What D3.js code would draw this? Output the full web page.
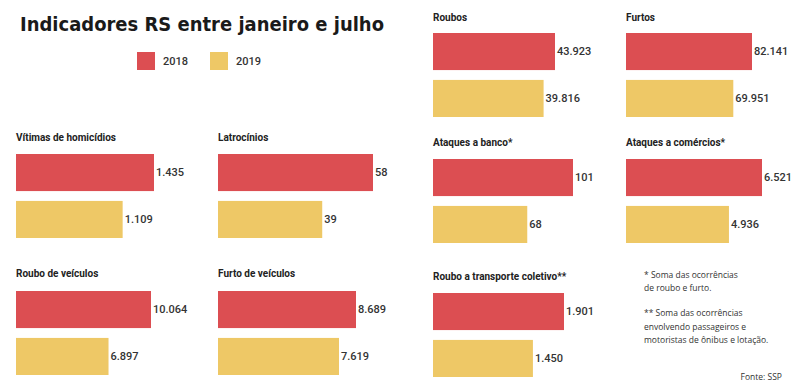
<!DOCTYPE html>
<html><head><meta charset="utf-8">
<script src="https://cdn.jsdelivr.net/npm/d3@7"></script>
<style>
html,body{margin:0;padding:0;background:#fff;}
svg{display:block;}
</style></head>
<body>
<svg id="chart" width="800" height="391"></svg>
<script>
// ---- data ----
const chartTitle = "Indicadores RS entre janeiro e julho";
const years = ["2018", "2019"];
const panelTitles = ["Roubos", "Furtos", "Vítimas de homicídios", "Latrocínios",
  "Ataques a banco*", "Ataques a comércios*", "Roubo de veículos", "Furto de veículos",
  "Roubo a transporte coletivo**"];
const values2018 = [43923, 82141, 1435, 58, 101, 6521, 10064, 8689, 1901];
const values2019 = [39816, 69951, 1109, 39, 68, 4936, 6897, 7619, 1450];
const notes = [["* Soma das ocorrências", "de roubo e furto."],
  ["** Soma das ocorrências", "envolvendo passageiros e", "motoristas de ônibus e lotação."]];
const source = "Fonte: SSP";

// ---- layout (positions only) ----
const layout = [
  {x: 433, ty: 17, top: 33, w: 122},
  {x: 626, ty: 17, top: 33, w: 126},
  {x: 16, ty: 137, top: 154, w: 138},
  {x: 218, ty: 137, top: 154, w: 155},
  {x: 433, ty: 142, top: 159, w: 140},
  {x: 626, ty: 142, top: 159, w: 136},
  {x: 16, ty: 273, top: 291, w: 135},
  {x: 218, ty: 273, top: 291, w: 138},
  {x: 433, ty: 276, top: 293, w: 131}
];
const colors = d3.scaleOrdinal().domain(years).range(["#dc4e52", "#eec866"]);
const fmt = v => d3.format(",")(v).replace(/,/g, ".");

const svg = d3.select("#chart");

// title
const t = svg.append("text").attr("x", 20).attr("y", 31)
  .attr("font-family", "DejaVu Sans").attr("font-weight", "bold").attr("font-size", 20)
  .attr("fill", "#1a1a1a").text(chartTitle);
const tl = t.node().getComputedTextLength();
if (tl > 364) t.attr("textLength", 364).attr("lengthAdjust", "spacingAndGlyphs");

// legend
const legX = d3.scalePoint().domain(years).range([137, 210]);
const leg = svg.append("g").selectAll("g").data(years).join("g")
  .attr("transform", d => `translate(${legX(d)},52)`);
leg.append("rect").attr("width", 18).attr("height", 18).attr("fill", d => colors(d));
leg.append("text").attr("x", 26).attr("y", 13).attr("font-family", "Roboto")
  .attr("font-size", 11).attr("font-weight", 500).attr("fill", "#333").text(d => d);

// panels
panelTitles.forEach((title, i) => {
  const L = layout[i];
  const vals = [values2018[i], values2019[i]];
  const g = svg.append("g").attr("transform", `translate(${L.x},0)`);
  const x = d3.scaleLinear().domain([0, d3.max(vals)]).range([0, L.w]);
  const y = d3.scaleBand().domain(years).range([L.top, L.top + 84]).paddingInner(0.21);
  g.append("text").attr("x", 0).attr("y", L.ty).attr("dy", "0.35em")
    .attr("font-family", "Roboto").attr("font-weight", 700).attr("font-size", 10)
    .attr("fill", "#222").text(title);
  const rows = g.selectAll("g.row").data(years.map((yr, j) => ({yr, v: vals[j]})))
    .join("g").attr("class", "row");
  rows.append("rect").attr("x", 0).attr("y", d => y(d.yr))
    .attr("width", d => x(d.v)).attr("height", y.bandwidth())
    .attr("fill", d => colors(d.yr));
  rows.append("text").attr("x", d => x(d.v) + 2).attr("y", d => y(d.yr) + y.bandwidth() / 2)
    .attr("dy", "0.35em").attr("font-family", "Roboto").attr("font-weight", 500)
    .attr("font-size", 11).attr("fill", "#333").text(d => fmt(d.v));
});

// notes
const noteG = svg.append("g").attr("font-family", "Open Sans").attr("font-size", 8.5).attr("fill", "#333");
const noteY = [[275, 288], [313, 327, 340]];
notes.forEach((lines, k) => {
  lines.forEach((ln, m) => {
    noteG.append("text").attr("x", 644).attr("y", noteY[k][m]).attr("dy", "0.35em").text(ln);
  });
});
noteG.append("text").attr("x", 782).attr("y", 377).attr("dy", "0.35em")
  .attr("text-anchor", "end").text(source);
</script>
</body></html>
